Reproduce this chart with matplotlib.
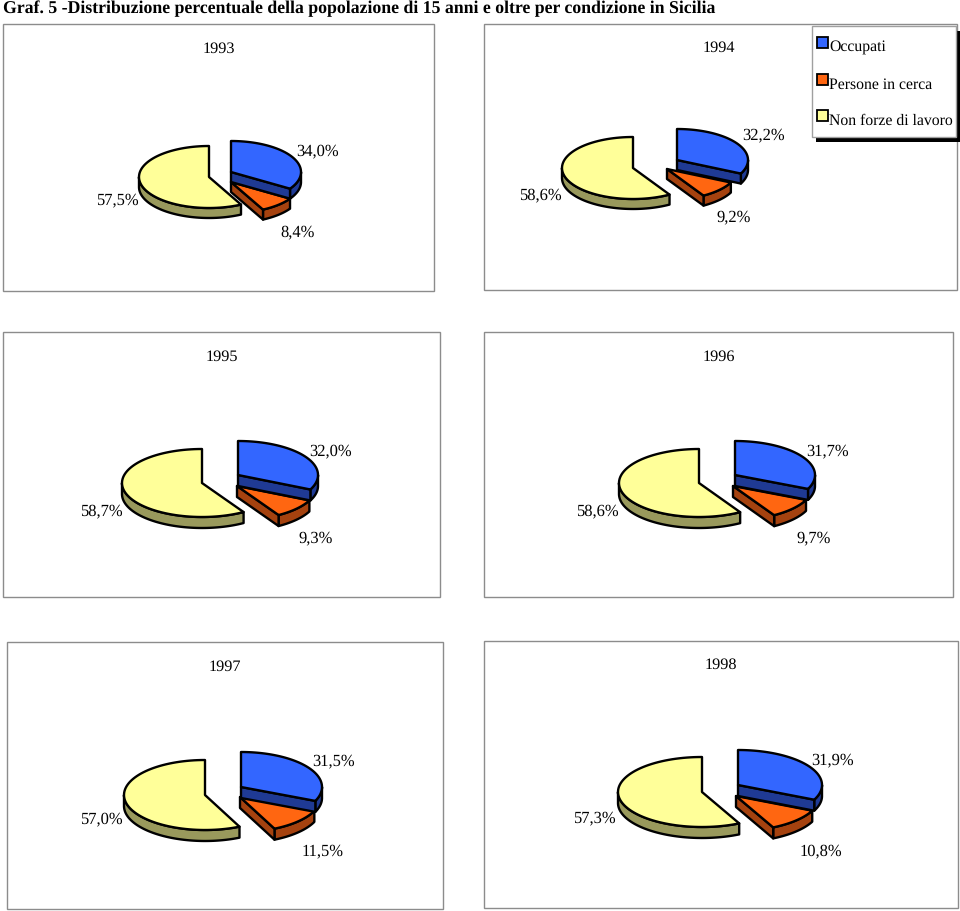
import numpy as np
import matplotlib.pyplot as plt
from matplotlib.patches import Polygon, Rectangle

plt.rcParams['font.family'] = ['Liberation Serif', 'DejaVu Serif']
plt.rcParams['text.hinting'] = 'no_hinting'

W, H = 960, 911

years = ['1993', '1994', '1995', '1996', '1997', '1998']
occupati = [34.0, 32.2, 32.0, 31.7, 31.5, 31.9]
in_cerca = [8.4, 9.2, 9.3, 9.7, 11.5, 10.8]
non_forze = [57.5, 58.6, 58.7, 58.6, 57.0, 57.3]
legend_names = ['Occupati', 'Persone in cerca', 'Non forze di lavoro']

top_cols = ['#3366ff', '#ff6611', '#ffff99']
side_cols = ['#1f3a94', '#a5420f', '#99995c']

# layout, in pixels of the picture
frames = [(3, 24, 434, 291), (484, 24, 957, 290), (3, 332, 440, 597),
          (484, 332, 953, 597), (7, 642, 443, 909), (484, 641, 958, 908)]
title_xy = [(219, 49), (719, 48), (222, 357), (719, 357), (225, 667), (721, 665)]
blue_c = [(231, 172), (677, 160), (238, 475), (735, 475), (241, 787), (738, 785)]
orange_c = [(231, 182), (667, 169), (237, 486), (733, 486), (240, 797), (736, 796)]
yellow_c = [(209, 177), (633, 168), (202, 483), (699, 483), (205, 795), (702, 792)]
radii = [(70, 31, 10), (71, 31, 10), (80, 34, 11), (80, 34, 11), (81, 35, 11), (84, 35, 11)]
lab_blue = [(318, 151), (764, 135), (331, 451), (828, 451), (334, 761), (833, 760)]
lab_orange = [(298, 232), (734, 217), (316, 538), (814, 538), (323, 851), (821, 851)]
lab_yellow = [(117, 200), (540, 195), (101, 511), (597, 511), (101, 819), (594, 818)]


def arc(c, rx, ry, a1, a2, dz=0):
    # angles in degrees, clockwise from 12 o'clock
    t = np.radians(np.linspace(a1, a2, 80))
    return np.column_stack([c[0] + rx * np.sin(t), c[1] - ry * np.cos(t) + dz])


def slice3d(ax, c, rx, ry, dz, a1, a2, top, side, zorder):
    # outer wall, only the front half of the rim shows
    f1, f2 = max(a1, 90), min(a2, 270)
    if f2 > f1:
        up = arc(c, rx, ry, f1, f2)
        down = arc(c, rx, ry, f1, f2, dz)[::-1]
        ax.add_patch(Polygon(np.vstack([up, down]), fc=side, ec='black', lw=1.7,
                             joinstyle='round', zorder=zorder))
    # cut face at the end of the slice
    if 90 < a2 < 180:
        tip = arc(c, rx, ry, a2, a2)[0]
        pts = [c, tip, (tip[0], tip[1] + dz), (c[0], c[1] + dz)]
        ax.add_patch(Polygon(pts, fc=side, ec='black', lw=1.7,
                             joinstyle='round', zorder=zorder))
    pts = np.vstack([[c], arc(c, rx, ry, a1, a2)])
    ax.add_patch(Polygon(pts, fc=top, ec='black', lw=1.7,
                         joinstyle='round', zorder=zorder + 0.5))


fig = plt.figure(figsize=(W / 100, H / 100), dpi=100)
ax = fig.add_axes([0, 0, 1, 1])
ax.set_xlim(0, W)
ax.set_ylim(H, 0)
ax.axis('off')

ax.text(3, 9, 'Graf. 5 -Distribuzione percentuale della popolazione di 15 anni e oltre per condizione in Sicilia',
        fontsize=12.8, fontweight='bold', va='center', ha='left')

for i in range(len(years)):
    x0, y0, x1, y1 = frames[i]
    ax.add_patch(Rectangle((x0, y0), x1 - x0, y1 - y0, fc='white', ec='#8c8c8c', lw=1))
    ax.text(title_xy[i][0], title_xy[i][1], years[i], fontsize=11.7, ha='center', va='center')

    total = occupati[i] + in_cerca[i] + non_forze[i]
    a_blue = occupati[i] / total * 360
    a_orange = a_blue + in_cerca[i] / total * 360
    rx, ry, dz = radii[i]
    slice3d(ax, yellow_c[i], rx, ry, dz, a_orange, 360, top_cols[2], side_cols[2], 2)
    slice3d(ax, orange_c[i], rx, ry, dz, a_blue, a_orange, top_cols[1], side_cols[1], 3)
    slice3d(ax, blue_c[i], rx, ry, dz, 0, a_blue, top_cols[0], side_cols[0], 4)

    for pos, val in zip([lab_blue[i], lab_orange[i], lab_yellow[i]],
                        [occupati[i], in_cerca[i], non_forze[i]]):
        ax.text(pos[0], pos[1], f'{val:.1f}%'.replace('.', ','), fontsize=11.9,
                ha='center', va='center', zorder=6)

# legend box with its black shadow
ax.add_patch(Rectangle((816, 31), 144, 111, fc='black', ec='none', zorder=7))
ax.add_patch(Rectangle((812, 26), 144, 111, fc='white', ec='#a0a0a0', lw=1, zorder=8))
for name, col, y in zip(legend_names, top_cols, [48, 85, 121]):
    ax.add_patch(Rectangle((816.5, y - 11), 11, 11, fc=col, ec='black', lw=1.3, zorder=9))
    ax.text(829, y, name, fontsize=11.3, va='center', ha='left', zorder=9)

fig.savefig('out.png', dpi=100)
